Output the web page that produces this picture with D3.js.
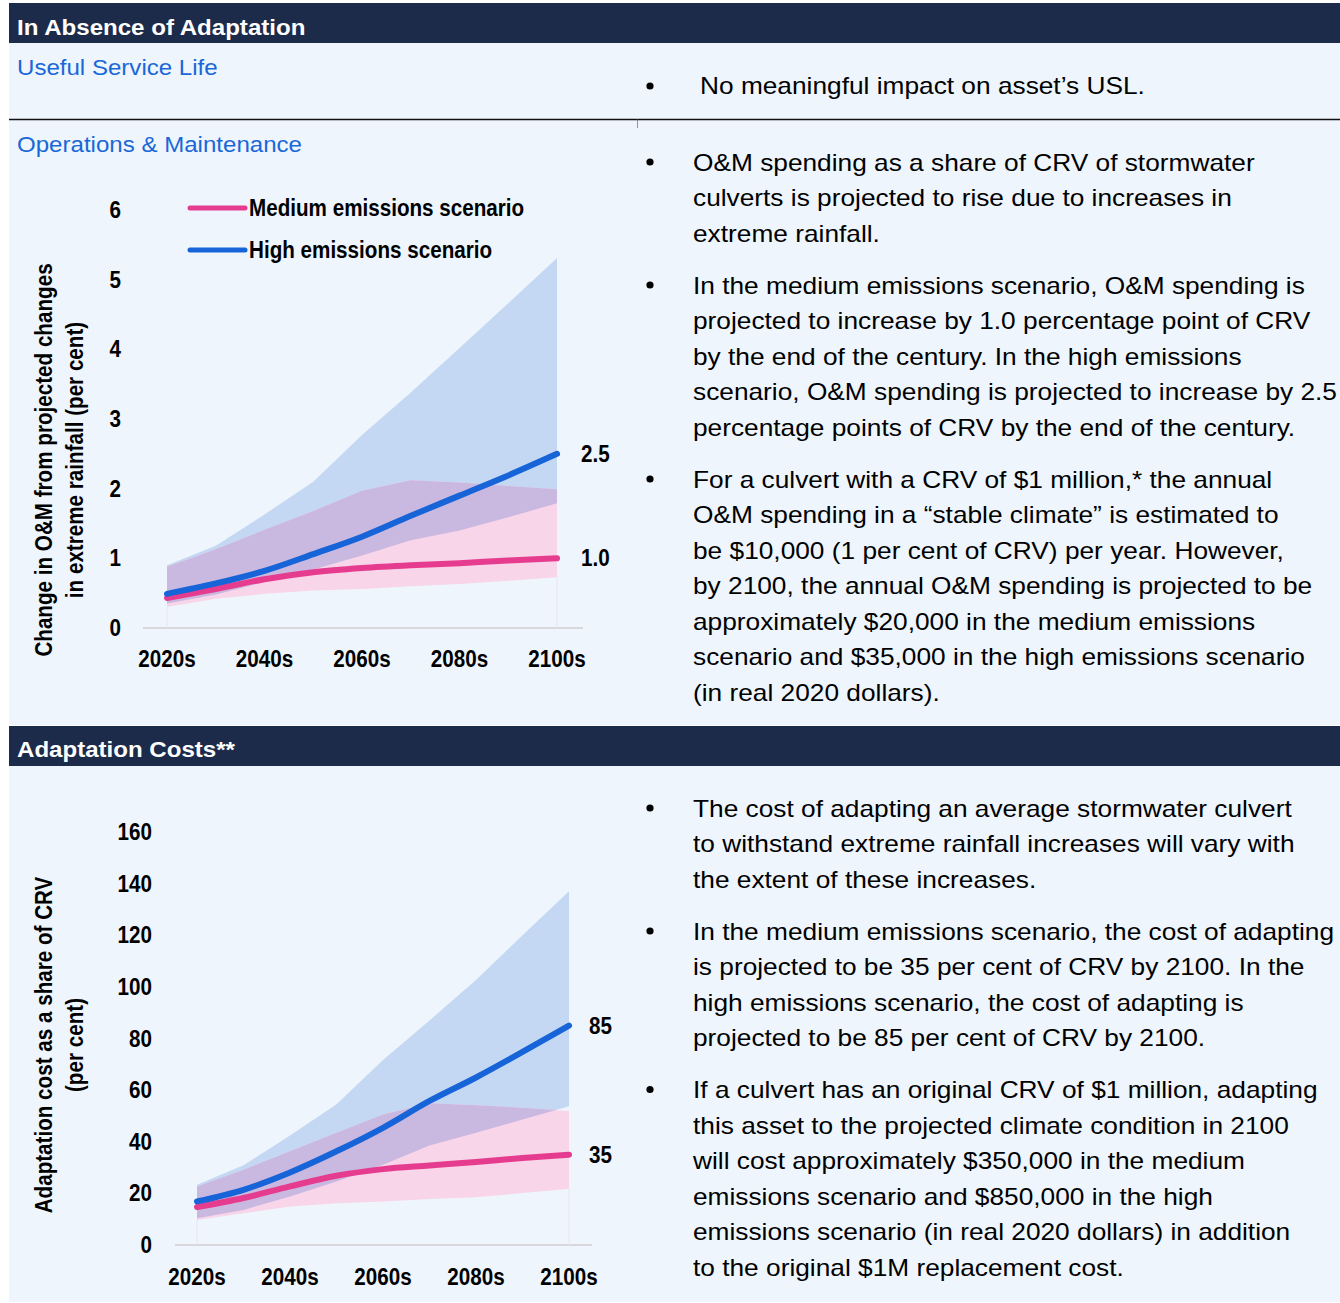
<!DOCTYPE html>
<html>
<head>
<meta charset="utf-8">
<script src="https://cdn.jsdelivr.net/npm/d3@7"></script>
<style>
  html, body { margin: 0; padding: 0; background: #ffffff; }
  svg { display: block; }
  text { font-family: "Liberation Sans", Arial, sans-serif; }
</style>
</head>
<body>
<script>
// ---- Data -------------------------------------------------------------
const decades = ["2020s", "2030s", "2040s", "2050s", "2060s", "2070s", "2080s", "2090s", "2100s"];
const xTickLabels = ["2020s", "2040s", "2060s", "2080s", "2100s"];
const seriesNames = ["Medium emissions scenario", "High emissions scenario"];

// O&M change (per cent of CRV)
const omMedium     = [0.43, 0.56, 0.70, 0.80, 0.86, 0.90, 0.93, 0.97, 1.0];
const omMediumLow  = [0.30, 0.42, 0.49, 0.54, 0.56, 0.60, 0.63, 0.68, 0.73];
const omMediumHigh = [0.88, 1.13, 1.41, 1.68, 1.97, 2.12, 2.09, 2.04, 1.99];
const omHigh       = [0.49, 0.64, 0.82, 1.06, 1.31, 1.61, 1.90, 2.19, 2.5];
const omHighLow    = [0.35, 0.48, 0.66, 0.84, 1.04, 1.26, 1.40, 1.59, 1.79];
const omHighHigh   = [0.90, 1.18, 1.63, 2.10, 2.77, 3.38, 4.02, 4.66, 5.31];
const omTicks = [0, 1, 2, 3, 4, 5, 6];

// Adaptation cost (per cent of CRV)
const acMedium     = [14.7, 18.2, 22.7, 26.8, 29.4, 30.8, 32.2, 33.7, 35];
const acMediumLow  = [9.7, 12.3, 14.9, 16.2, 16.9, 17.8, 18.5, 20.1, 21.8];
const acMediumHigh = [22.7, 29.2, 36.3, 43.5, 50.6, 54.9, 54.1, 53.2, 51.9];
const acHigh       = [16.9, 21.4, 28.1, 36.3, 45.4, 55.8, 64.9, 74.8, 85];
const acHighLow    = [10.4, 13.6, 18.8, 24.6, 31.1, 38.5, 43.5, 48.6, 53.8];
const acHighHigh   = [23.3, 30.9, 42.4, 54.5, 71.7, 87.0, 102.7, 120.0, 137.0];
const acTicks = [0, 20, 40, 60, 80, 100, 120, 140, 160];

// ---- Text -------------------------------------------------------------
const uslText = "No meaningful impact on asset\u2019s USL.";
const omParagraphs = [
  ["O&M spending as a share of CRV of stormwater",
   "culverts is projected to rise due to increases in",
   "extreme rainfall."],
  ["In the medium emissions scenario, O&M spending is",
   "projected to increase by 1.0 percentage point of CRV",
   "by the end of the century. In the high emissions",
   "scenario, O&M spending is projected to increase by 2.5",
   "percentage points of CRV by the end of the century."],
  ["For a culvert with a CRV of $1 million,* the annual",
   "O&M spending in a \u201cstable climate\u201d is estimated to",
   "be $10,000 (1 per cent of CRV) per year. However,",
   "by 2100, the annual O&M spending is projected to be",
   "approximately $20,000 in the medium emissions",
   "scenario and $35,000 in the high emissions scenario",
   "(in real 2020 dollars)."]
];
const acParagraphs = [
  ["The cost of adapting an average stormwater culvert",
   "to withstand extreme rainfall increases will vary with",
   "the extent of these increases."],
  ["In the medium emissions scenario, the cost of adapting",
   "is projected to be 35 per cent of CRV by 2100. In the",
   "high emissions scenario, the cost of adapting is",
   "projected to be 85 per cent of CRV by 2100."],
  ["If a culvert has an original CRV of $1 million, adapting",
   "this asset to the projected climate condition in 2100",
   "will cost approximately $350,000 in the medium",
   "emissions scenario and $850,000 in the high",
   "emissions scenario (in real 2020 dollars) in addition",
   "to the original $1M replacement cost."]
];

// ---- Style ------------------------------------------------------------
const C = {
  navy: "#1d2b4b",
  panel: "#eef5fd",
  linkBlue: "#1a67d8",
  pinkLine: "#e63c90",
  blueLine: "#1664d8",
  blueBand: "#c4d8f3",
  pinkBand: "#f8d5e8",
  overlap: "#c9b8e0",
  axis: "#d8d8dc"
};
const W = 1340, H = 1303;
const WIDE = 1.095;   // horizontal stretch of the body typeface
const NARROW = 0.86;  // condensed chart typeface

const svg = d3.select("body").append("svg")
  .attr("width", W).attr("height", H)
  .attr("viewBox", `0 0 ${W} ${H}`);

// ---- Page frame -------------------------------------------------------
svg.append("rect").attr("x", 9).attr("y", 43).attr("width", W - 9).attr("height", 682).attr("fill", C.panel);
svg.append("rect").attr("x", 9).attr("y", 766).attr("width", W - 9).attr("height", 536).attr("fill", C.panel);
svg.append("rect").attr("x", 9).attr("y", 3).attr("width", W - 9).attr("height", 40).attr("fill", C.navy);
svg.append("rect").attr("x", 9).attr("y", 726).attr("width", W - 9).attr("height", 40).attr("fill", C.navy);
svg.append("line").attr("x1", 9).attr("x2", W).attr("y1", 119.5).attr("y2", 119.5)
  .attr("stroke", "#111").attr("stroke-width", 1.3);
svg.append("line").attr("x1", 637.5).attr("x2", 637.5).attr("y1", 119).attr("y2", 128)
  .attr("stroke", "#555").attr("stroke-width", 0.6);

function wideText(g, x, y, str, opts) {
  const o = Object.assign({ size: 24, weight: "normal", fill: "#000", sx: WIDE }, opts || {});
  return g.append("text")
    .attr("transform", `translate(${x},${y}) scale(${o.sx},1)`)
    .attr("font-size", o.size).attr("font-weight", o.weight).attr("fill", o.fill)
    .text(str);
}

wideText(svg, 17, 35, "In Absence of Adaptation", { size: 22, weight: "bold", fill: "#fff" });
wideText(svg, 17, 757, "Adaptation Costs**", { size: 22, weight: "bold", fill: "#fff" });
wideText(svg, 17, 75, "Useful Service Life", { size: 22, fill: C.linkBlue });
wideText(svg, 17, 152, "Operations & Maintenance", { size: 22, fill: C.linkBlue });

// ---- Bullet text blocks -----------------------------------------------
const LINE = 35.5, PARA_GAP = 16.5;
function bulletBlock(paragraphs, firstCenter) {
  const g = svg.append("g");
  let y = firstCenter;
  paragraphs.forEach(lines => {
    g.append("circle").attr("cx", 650).attr("cy", y).attr("r", 3.6).attr("fill", "#000");
    lines.forEach((ln, i) => {
      wideText(g, 693, y + 8.5 + i * LINE, ln);
    });
    y += lines.length * LINE + PARA_GAP;
  });
}
svg.append("circle").attr("cx", 650).attr("cy", 86).attr("r", 3.6).attr("fill", "#000");
wideText(svg, 700, 94, uslText);
bulletBlock(omParagraphs, 162);
bulletBlock(acParagraphs, 808);

// ---- Chart drawing ----------------------------------------------------
function chartText(g, x, y, str, anchor, rotate) {
  const rot = rotate ? ` rotate(${rotate})` : "";
  return g.append("text")
    .attr("transform", `translate(${x},${y})${rot} scale(${NARROW},1)`)
    .attr("text-anchor", anchor || "start")
    .attr("dominant-baseline", "central")
    .attr("font-size", 24).attr("font-weight", "bold").attr("fill", "#000")
    .text(str);
}

let clipId = 0;
function drawChart(cfg) {
  const g = svg.append("g");
  const x = d3.scalePoint().domain(decades).range(cfg.xRange);
  const y = d3.scaleLinear().domain(cfg.yDomain).range(cfg.yRange);

  const band = (lo, hi) => d3.area()
    .x((d, i) => x(decades[i]))
    .y0((d, i) => y(lo[i]))
    .y1((d, i) => y(hi[i]))(lo);
  const line = vals => d3.line()
    .x((d, i) => x(decades[i]))
    .y(d => y(d))
    .curve(d3.curveMonotoneX)(vals);

  const highBand = band(cfg.highLow, cfg.highHigh);
  const medBand = band(cfg.medLow, cfg.medHigh);

  // baseline
  g.append("line")
    .attr("x1", cfg.axisX[0]).attr("x2", cfg.axisX[1])
    .attr("y1", y(0)).attr("y2", y(0))
    .attr("stroke", C.axis).attr("stroke-width", 2);

  // faint end guides
  [0, decades.length - 1].forEach(i => {
    g.append("line").attr("x1", x(decades[i])).attr("x2", x(decades[i]))
      .attr("y1", y(0)).attr("y2", y(cfg.medLow[i]))
      .attr("stroke", "#e4e6f4").attr("stroke-width", 1);
  });

  // ranges: high band, medium band, and their overlap
  g.append("path").attr("d", highBand).attr("fill", C.blueBand);
  g.append("path").attr("d", medBand).attr("fill", C.pinkBand);
  const id = "overlap-clip-" + (clipId++);
  g.append("clipPath").attr("id", id).append("path").attr("d", highBand);
  g.append("path").attr("d", medBand).attr("fill", C.overlap).attr("clip-path", `url(#${id})`);

  // central projections
  g.append("path").attr("d", line(cfg.med)).attr("fill", "none")
    .attr("stroke", C.pinkLine).attr("stroke-width", 6).attr("stroke-linecap", "round");
  g.append("path").attr("d", line(cfg.high)).attr("fill", "none")
    .attr("stroke", C.blueLine).attr("stroke-width", 6).attr("stroke-linecap", "round");

  // y tick labels
  cfg.yTicks.forEach(t => chartText(g, cfg.yLabelX, y(t), String(t), "end"));
  // x tick labels
  xTickLabels.forEach(t => chartText(g, x(t), cfg.xLabelY, t, "middle"));

  // end-of-century values
  const last = decades.length - 1, xe = x(decades[last]) + cfg.endOffset;
  chartText(g, xe, y(cfg.high[last]), cfg.fmt(cfg.high[last]), "start");
  chartText(g, xe, y(cfg.med[last]), cfg.fmt(cfg.med[last]), "start");

  // y title
  cfg.yTitle.forEach((t, i) => chartText(g, cfg.yTitleX[i], cfg.yTitleY, t, "middle", -90));

  // legend
  if (cfg.legend) {
    const colors = [C.pinkLine, C.blueLine];
    seriesNames.forEach((name, i) => {
      const ly = cfg.legend.y + i * cfg.legend.step;
      g.append("line").attr("x1", cfg.legend.x).attr("x2", cfg.legend.x + 55)
        .attr("y1", ly).attr("y2", ly)
        .attr("stroke", colors[i]).attr("stroke-width", 5).attr("stroke-linecap", "round");
      chartText(g, cfg.legend.x + 59, ly, name, "start");
    });
  }
}

drawChart({
  xRange: [167, 557], yDomain: [0, 6], yRange: [628, 210],
  axisX: [143, 583], yTicks: omTicks, yLabelX: 121, xLabelY: 659, endOffset: 24,
  med: omMedium, medLow: omMediumLow, medHigh: omMediumHigh,
  high: omHigh, highLow: omHighLow, highHigh: omHighHigh,
  fmt: d3.format(".1f"),
  yTitle: ["Change in O&M from projected changes", "in extreme rainfall (per cent)"],
  yTitleX: [44, 75], yTitleY: 460,
  legend: { x: 190, y: 208, step: 42 }
});

drawChart({
  xRange: [197, 569], yDomain: [0, 160], yRange: [1245, 832],
  axisX: [175, 592], yTicks: acTicks, yLabelX: 152, xLabelY: 1277, endOffset: 20,
  med: acMedium, medLow: acMediumLow, medHigh: acMediumHigh,
  high: acHigh, highLow: acHighLow, highHigh: acHighHigh,
  fmt: d3.format("d"),
  yTitle: ["Adaptation cost as a share of CRV", "(per cent)"],
  yTitleX: [44, 75], yTitleY: 1045,
  legend: null
});
</script>
</body>
</html>
